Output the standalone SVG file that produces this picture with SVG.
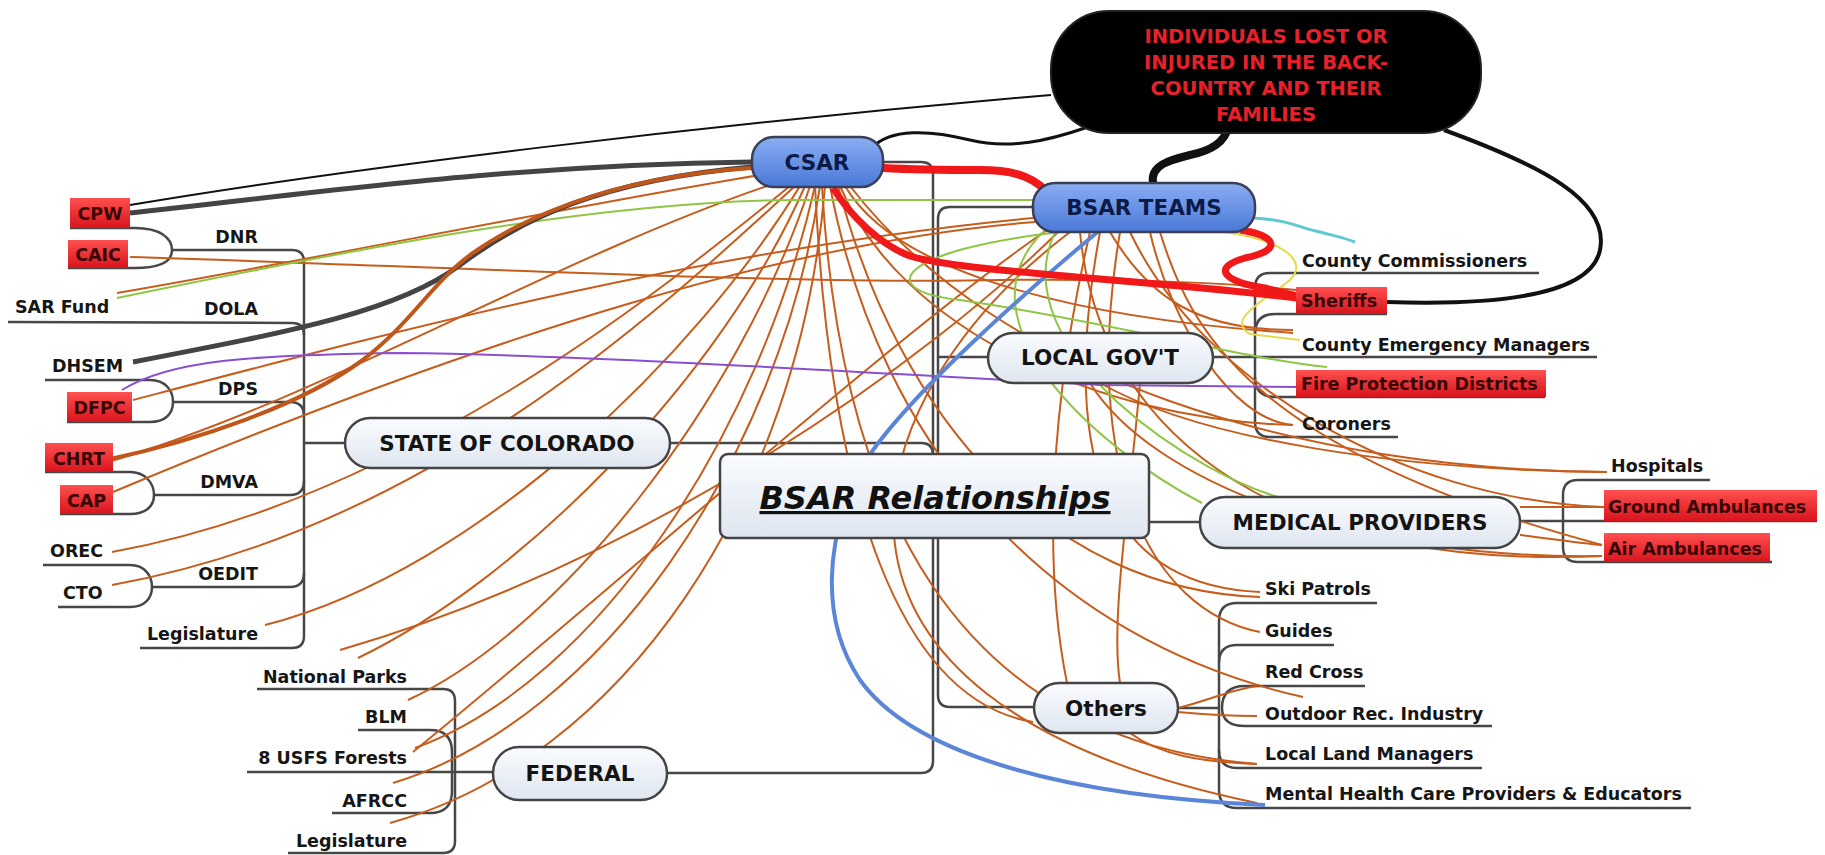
<svg xmlns="http://www.w3.org/2000/svg" width="1825" height="855" viewBox="0 0 1825 855">
<defs>
<linearGradient id="gLight" x1="0" y1="0" x2="0" y2="1"><stop offset="0" stop-color="#f9fbfe"/><stop offset="1" stop-color="#dfe6f0"/></linearGradient>
<linearGradient id="gBlue" x1="0" y1="0" x2="0" y2="1"><stop offset="0" stop-color="#8aaef2"/><stop offset="1" stop-color="#4a78d8"/></linearGradient>
<linearGradient id="gRed" x1="0" y1="0" x2="0" y2="1"><stop offset="0" stop-color="#ff5050"/><stop offset="1" stop-color="#d8141c"/></linearGradient>
<style>
.tree{fill:none;stroke:#474747;stroke-width:2.5}
.lk{fill:none;stroke:#c65d1d;stroke-width:2}
.gr{fill:none;stroke:#8fc545;stroke-width:2}
.lbl{font-family:"DejaVu Sans",sans-serif;font-weight:bold;font-size:17.5px;fill:#161616}
.rlbl{font-family:"DejaVu Sans",sans-serif;font-weight:bold;font-size:17.5px;fill:#3a0505}
.main{font-family:"DejaVu Sans",sans-serif;font-weight:bold;font-size:21.5px;fill:#141414;text-anchor:middle}
.bmain{font-family:"DejaVu Sans",sans-serif;font-weight:bold;font-size:21.5px;fill:#0c1a48;text-anchor:middle}
.lightbox{fill:url(#gLight);stroke:#444;stroke-width:2.5}
.bluebox{fill:url(#gBlue);stroke:#3a3f55;stroke-width:2.5}
.redbox{fill:url(#gRed);stroke:none}
</style>
</defs>
<rect width="1825" height="855" fill="#ffffff"/>

<g id="connectors">
<!-- tree: state of colorado -->
<path class="tree" d="M172 250 L292 250 Q304 250 304 262 L304 636 Q304 648 292 648 L140 648"/>
<path class="tree" d="M8 322 L292 323 Q304 323 304 335"/>
<path class="tree" d="M173 402 L290 402 Q304 402 304 416"/>
<path class="tree" d="M304 443 L345 443"/>
<path class="tree" d="M154 495 L290 495 Q304 495 304 481"/>
<path class="tree" d="M152 587 L290 587 Q304 587 304 573"/>
<path class="tree" d="M70 228 L135 228 C160 228 172 238 172 250 C172 262 160 268 135 268 L68 268"/>
<path class="tree" d="M45 380 L150 380 C165 380 173 390 173 402 C173 414 165 422 150 422 L67 422"/>
<path class="tree" d="M45 472 L130 472 C145 472 154 483 154 495 C154 507 145 514 130 514 L60 514"/>
<path class="tree" d="M43 565 L130 565 C145 565 152 576 152 587 C152 598 145 607 130 607 L58 607"/>
<!-- federal -->
<path class="tree" d="M257 689 L443 689 Q455 689 455 701 L455 841 Q455 853 443 853 L288 853"/>
<path class="tree" d="M358 730 L430 730 Q452 730 452 752 L452 791 Q452 813 430 813 L332 813"/>
<path class="tree" d="M247 772 L493 772"/>
<!-- central trunks -->
<path class="tree" d="M667 773 L921 773 Q933 773 933 761 L933 174 Q933 162 921 162 L883 162"/>
<path class="tree" d="M670 443 L921 443 Q933 443 933 455"/>
<path class="tree" d="M1033 207 L950 207 Q938 207 938 219 L938 695 Q938 707 950 707 L1034 707"/>
<path class="tree" d="M938 357 L988 357"/>
<path class="tree" d="M1148 522 L1200 522"/>
<!-- local gov't -->
<path class="tree" d="M1213 357 L1597 357"/>
<path class="tree" d="M1539 273 L1270 273 Q1255 273 1255 288 L1255 422 Q1255 437 1270 437 L1398 437"/>
<path class="tree" d="M1387 314 L1275 314 Q1255 314 1255 334"/>
<path class="tree" d="M1545 397 L1275 397 Q1255 397 1255 377"/>
<!-- medical -->
<path class="tree" d="M1520 521 L1817 521"/>
<path class="tree" d="M1710 480 L1578 480 Q1563 480 1563 495 L1563 547 Q1563 562 1578 562 L1772 562"/>
<!-- others -->
<path class="tree" d="M1178 708 L1219 708"/>
<path class="tree" d="M1377 603 L1237 603 Q1219 603 1219 621 L1219 790 Q1219 808 1237 808 L1691 808"/>
<path class="tree" d="M1334 645 L1237 645 Q1219 645 1219 663"/>
<path class="tree" d="M1365 686 L1245 686 Q1222 686 1222 708 Q1222 726 1245 726 L1492 726"/>
<path class="tree" d="M1482 768 L1237 768 Q1219 768 1219 750"/>

<!-- orange cross links -->
<g id="links-orange">
<path class="lk" d="M760 175 C550 210 300 262 117 293"/>
<path class="lk" d="M1033 218 C700 250 400 330 133 400"/>
<path class="lk" d="M770 185 C550 260 320 400 108 462"/>
<path class="lk" d="M1035 222 C800 240 500 330 113 492"/>
<path class="lk" d="M790 186 C650 300 400 500 112 552"/>
<path class="lk" d="M795 186 C650 320 420 530 112 585"/>
<path class="lk" d="M800 186 C700 350 480 570 265 625"/>
<path class="lk" d="M805 186 C720 380 520 580 358 658"/>
<path class="lk" d="M810 186 C740 400 560 630 408 700"/>
<path class="lk" d="M815 186 C760 430 600 680 415 748"/>
<path class="lk" d="M820 186 C780 460 600 720 393 783"/>
<path class="lk" d="M825 186 C800 500 620 760 390 823"/>
<path class="lk" d="M1050 228 C900 330 600 600 413 752"/>
<path class="lk" d="M1060 230 C930 360 650 560 340 650"/>
<path class="lk" d="M130 257 C400 265 800 285 1000 280 C1150 278 1250 285 1296 290"/>
<path class="lk" d="M840 186 C900 330 1100 420 1293 425"/>
<path class="lk" d="M845 186 C900 280 1100 320 1293 333"/>
<path class="lk" d="M850 186 C1000 380 1300 470 1607 472"/>
<path class="lk" d="M1130 232 C1200 380 1400 500 1604 507"/>
<path class="lk" d="M1080 232 C1100 450 1300 570 1602 556"/>
<path class="lk" d="M1520 507 L1604 507"/>
<path class="lk" d="M1520 535 C1560 540 1580 543 1602 545"/>
<path class="lk" d="M1100 232 C1060 450 1100 585 1260 592"/>
<path class="lk" d="M838 186 C900 420 1050 590 1260 597"/>
<path class="lk" d="M1120 232 C1080 470 1150 610 1260 632"/>
<path class="lk" d="M830 186 C880 450 1050 640 1303 697"/>
<path class="lk" d="M1178 708 C1210 700 1230 690 1257 686"/>
<path class="lk" d="M1178 712 C1210 715 1230 716 1257 716"/>
<path class="lk" d="M822 186 C840 500 950 740 1257 764"/>
<path class="lk" d="M1130 733 C1160 755 1200 762 1257 764"/>
<path class="lk" d="M1070 232 C850 400 760 700 1257 803"/>
<path class="lk" d="M815 186 C830 500 900 700 1033 722"/>
<path class="lk" d="M1090 232 C1040 450 1050 600 1067 683"/>
<path class="lk" d="M1140 383 C1130 500 1110 620 1120 683"/>
<path class="lk" d="M1090 383 C1150 480 1350 560 1602 556"/>
<path class="lk" d="M1100 383 C1200 440 1400 470 1605 472"/>
<path class="lk" d="M1110 232 C1150 300 1200 330 1293 330"/>
<path class="lk" d="M1150 232 C1170 320 1230 420 1293 425"/>
<path class="lk" d="M1160 232 C1190 330 1250 450 1602 545"/>
</g>
<g id="links-green">
<path class="gr" d="M117 298 C350 250 600 200 800 200 L1033 200"/>
<path class="gr" d="M1045 230 C950 320 1100 450 1202 503"/>
<path class="gr" d="M1060 232 C900 250 870 290 960 300 C1100 320 1250 360 1327 367"/>
<path class="gr" d="M1055 232 C1000 350 1200 480 1290 500"/>
</g>
<path d="M122 390 C170 360 250 355 400 353 C600 355 900 375 1100 385 L1297 387" fill="none" stroke="#8a4fd0" stroke-width="2"/>
<path d="M1253 218 C1290 220 1300 228 1320 232 C1335 236 1345 238 1355 242" fill="none" stroke="#5fc9d2" stroke-width="3"/>
<path d="M1225 232 C1280 240 1310 260 1290 280 C1265 300 1225 320 1250 334 L1300 340" fill="none" stroke="#e6d94c" stroke-width="2"/>
<path d="M1100 230 C1040 280 900 400 860 470 C825 540 820 620 860 680 C910 750 1050 795 1265 805" fill="none" stroke="#5b86d8" stroke-width="4"/>
<!-- dark lines -->
<path d="M130 205 C350 168 700 125 1051 95" fill="none" stroke="#111" stroke-width="2"/>
<path d="M130 213 C300 195 500 165 752 162" fill="none" stroke="#444" stroke-width="5"/>
<path d="M133 362 C300 330 400 310 460 265 C520 220 600 180 752 167" fill="none" stroke="#444" stroke-width="5"/>
<path d="M106 460 C200 440 300 405 360 362 C410 325 430 285 470 255 C540 205 640 175 752 168" fill="none" stroke="#c0561a" stroke-width="4"/>
<path d="M872 148 C890 128 930 130 970 140 C1010 150 1050 140 1085 128" fill="none" stroke="#111" stroke-width="3"/>
<path d="M1153 183 C1150 165 1170 160 1190 155 C1215 150 1225 140 1228 128" fill="none" stroke="#111" stroke-width="8"/>
<path d="M1444 130 C1540 165 1610 200 1600 250 C1590 300 1480 305 1387 302" fill="none" stroke="#111" stroke-width="4"/>
<path d="M883 168 C920 170 940 170 980 170 C1010 170 1030 175 1045 190" fill="none" stroke="#f01818" stroke-width="8"/>
<path d="M833 188 C850 215 880 245 910 256 C960 272 1150 280 1297 298" fill="none" stroke="#f01818" stroke-width="7"/>
<path d="M1240 230 C1275 235 1285 250 1245 258 C1210 268 1225 282 1265 288 L1297 296" fill="none" stroke="#f01818" stroke-width="7"/>
</g>

<g id="node-black">
<rect x="1051" y="11" width="430" height="122" rx="58" fill="#000" stroke="#222" stroke-width="2"/>
<g font-family="DejaVu Sans, sans-serif" font-weight="bold" font-size="19.5" fill="#e8202a" text-anchor="middle">
<text x="1266" y="43">INDIVIDUALS LOST OR</text>
<text x="1266" y="69">INJURED IN THE BACK-</text>
<text x="1266" y="95">COUNTRY AND THEIR</text>
<text x="1266" y="121">FAMILIES</text>
</g>
</g>
<g id="node-csar"><rect class="bluebox" x="752" y="137" width="131" height="50" rx="22"/><text class="bmain" x="817" y="170">CSAR</text></g>
<g id="node-bsar-teams"><rect class="bluebox" x="1033" y="183" width="222" height="49" rx="22"/><text class="bmain" x="1144" y="215">BSAR TEAMS</text></g>
<g id="node-central"><rect class="lightbox" x="720" y="454" width="429" height="84" rx="8"/><text x="935" y="509" font-family="DejaVu Sans, sans-serif" font-weight="bold" font-style="italic" font-size="32" fill="#111" text-anchor="middle" text-decoration="underline">BSAR Relationships</text></g>
<g id="node-state"><rect class="lightbox" x="345" y="418" width="325" height="50" rx="25"/><text class="main" x="507" y="451">STATE OF COLORADO</text></g>
<g id="node-local"><rect class="lightbox" x="988" y="333" width="225" height="50" rx="25"/><text class="main" x="1100" y="365">LOCAL GOV'T</text></g>
<g id="node-medical"><rect class="lightbox" x="1200" y="497" width="320" height="51" rx="25"/><text class="main" x="1360" y="530">MEDICAL PROVIDERS</text></g>
<g id="node-others"><rect class="lightbox" x="1034" y="683" width="144" height="50" rx="25"/><text class="main" x="1106" y="716">Others</text></g>
<g id="node-federal"><rect class="lightbox" x="493" y="747" width="174" height="53" rx="26"/><text class="main" x="580" y="781">FEDERAL</text></g>

<g id="state-children">
<text class="lbl" x="258" y="243" text-anchor="end">DNR</text>
<text class="lbl" x="258" y="315" text-anchor="end">DOLA</text>
<text class="lbl" x="258" y="395" text-anchor="end">DPS</text>
<text class="lbl" x="258" y="488" text-anchor="end">DMVA</text>
<text class="lbl" x="258" y="580" text-anchor="end">OEDIT</text>
<text class="lbl" x="258" y="640" text-anchor="end">Legislature</text>
<text class="lbl" x="15" y="313">SAR Fund</text>
<text class="lbl" x="52" y="372">DHSEM</text>
<text class="lbl" x="50" y="557">OREC</text>
<text class="lbl" x="63" y="599">CTO</text>
<g id="n-cpw"><rect class="redbox" x="70" y="198" width="60" height="30"/><text class="rlbl" x="100" y="220" text-anchor="middle">CPW</text></g>
<g id="n-caic"><rect class="redbox" x="68" y="240" width="60" height="28"/><text class="rlbl" x="98" y="261" text-anchor="middle">CAIC</text></g>
<g id="n-dfpc"><rect class="redbox" x="67" y="392" width="65" height="30"/><text class="rlbl" x="99.5" y="414" text-anchor="middle">DFPC</text></g>
<g id="n-chrt"><rect class="redbox" x="45" y="443" width="68" height="29"/><text class="rlbl" x="79" y="465" text-anchor="middle">CHRT</text></g>
<g id="n-cap"><rect class="redbox" x="60" y="485" width="53" height="29"/><text class="rlbl" x="86.5" y="507" text-anchor="middle">CAP</text></g>
</g>
<g id="federal-children">
<text class="lbl" x="407" y="683" text-anchor="end">National Parks</text>
<text class="lbl" x="407" y="723" text-anchor="end">BLM</text>
<text class="lbl" x="407" y="764" text-anchor="end">8 USFS Forests</text>
<text class="lbl" x="407" y="807" text-anchor="end">AFRCC</text>
<text class="lbl" x="407" y="847" text-anchor="end">Legislature</text>
</g>
<g id="local-children">
<text class="lbl" x="1302" y="267">County Commissioners</text>
<g id="n-sheriffs"><rect class="redbox" x="1296" y="287" width="91" height="27"/><text class="rlbl" x="1301" y="307">Sheriffs</text></g>
<text class="lbl" x="1302" y="351">County Emergency Managers</text>
<g id="n-fpd"><rect class="redbox" x="1296" y="370" width="250" height="27"/><text class="rlbl" x="1301" y="390">Fire Protection Districts</text></g>
<text class="lbl" x="1302" y="430">Coroners</text>
</g>
<g id="medical-children">
<text class="lbl" x="1611" y="472">Hospitals</text>
<g id="n-ground"><rect class="redbox" x="1604" y="490" width="213" height="31"/><text class="rlbl" x="1608" y="513">Ground Ambulances</text></g>
<g id="n-air"><rect class="redbox" x="1604" y="533" width="166" height="29"/><text class="rlbl" x="1608" y="555">Air Ambulances</text></g>
</g>
<g id="others-children">
<text class="lbl" x="1265" y="595">Ski Patrols</text>
<text class="lbl" x="1265" y="637">Guides</text>
<text class="lbl" x="1265" y="678">Red Cross</text>
<text class="lbl" x="1265" y="720">Outdoor Rec. Industry</text>
<text class="lbl" x="1265" y="760">Local Land Managers</text>
<text class="lbl" x="1265" y="800">Mental Health Care Providers &amp; Educators</text>
</g>
</svg>
